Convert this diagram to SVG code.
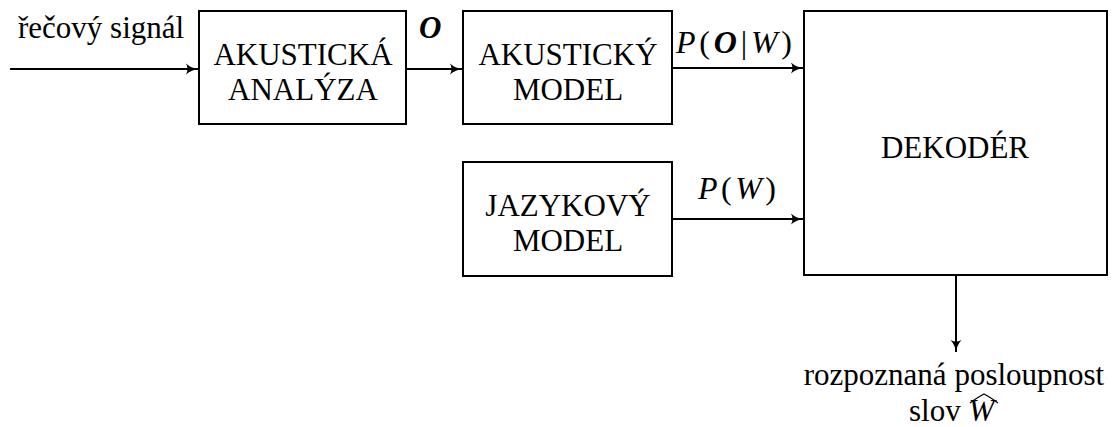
<svg xmlns="http://www.w3.org/2000/svg" width="1115" height="427" viewBox="0 0 1115 427" font-family="'Liberation Serif', 'Times New Roman', 'DejaVu Serif', serif">
<style>
text{font-family:'Liberation Serif','Times New Roman','DejaVu Serif',serif;font-size:31px;fill:#000}
.box{fill:#fff;stroke:#000;stroke-width:2}
.c{fill:none;stroke:#000;stroke-width:2}
.m{text-anchor:middle}
.i{font-style:italic}
.b{font-style:italic;font-weight:bold}
.math{font-size:32px}
</style>
<defs>
<marker id="ah" viewBox="0 0 14 12" refX="13" refY="6" markerWidth="14" markerHeight="12" markerUnits="userSpaceOnUse" orient="auto">
<path d="M1,0.5 Q6,5 13,6 Q6,7 1,11.5 Q4,6 1,0.5Z" fill="#000"/>
</marker>
</defs>
<rect width="1115" height="427" fill="#fff"/>
<g id="connectors">
<line class="c" x1="10" y1="69" x2="198" y2="69" marker-end="url(#ah)"/>
<line class="c" x1="406" y1="69" x2="462" y2="69" marker-end="url(#ah)"/>
<line class="c" x1="672" y1="68" x2="803" y2="68" marker-end="url(#ah)"/>
<line class="c" x1="672" y1="219" x2="803" y2="219" marker-end="url(#ah)"/>
<line class="c" x1="956" y1="275" x2="956" y2="352" marker-end="url(#ah)"/>
<text x="18" y="38">řečový signál</text>
<text class="b" x="419" y="38">O</text>
<text class="math" x="676" y="53" textLength="116" lengthAdjust="spacing"><tspan class="i">P</tspan>(<tspan class="b">O</tspan>|<tspan class="i">W</tspan>)</text>
<text class="math" x="698" y="199" textLength="78" lengthAdjust="spacing"><tspan class="i">P</tspan>(<tspan class="i">W</tspan>)</text>
<text class="m" x="954" y="385">rozpoznaná posloupnost</text>
<text x="909" y="421">slov <tspan class="i">W</tspan></text>
<path d="M970,403 Q978,397 984,394 Q990,397 998,403" fill="none" stroke="#000" stroke-width="1.3"/>
</g>
<g id="n-analyza">
<rect class="box" x="199" y="11" width="207" height="113"/>
<text class="m" x="303" y="65">AKUSTICKÁ</text>
<text class="m" x="303" y="100">ANALÝZA</text>
</g>
<g id="n-akmodel">
<rect class="box" x="463" y="11" width="209" height="113"/>
<text class="m" x="568" y="65">AKUSTICKÝ</text>
<text class="m" x="568" y="100">MODEL</text>
</g>
<g id="n-jazmodel">
<rect class="box" x="463" y="162" width="209" height="114"/>
<text class="m" x="568" y="216">JAZYKOVÝ</text>
<text class="m" x="568" y="251">MODEL</text>
</g>
<g id="n-dekoder">
<rect class="box" x="804" y="11" width="303" height="264"/>
<text class="m" x="955" y="158">DEKODÉR</text>
</g>
</svg>
